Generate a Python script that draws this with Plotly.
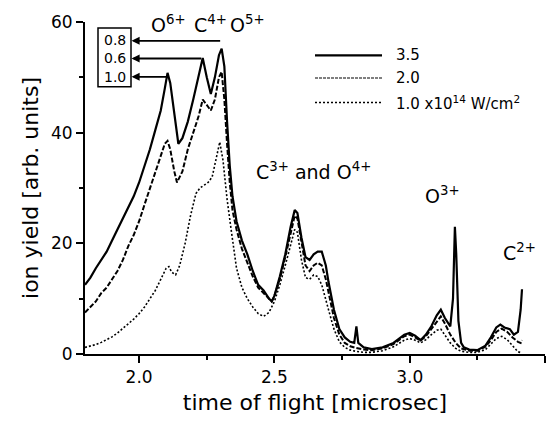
import plotly.graph_objects as go

# ---- data ----
tof_35 = [1.80, 1.82, 1.84, 1.86, 1.88, 1.90, 1.92, 1.94, 1.96, 1.98, 2.00, 2.02, 2.04, 2.06, 2.08,
          2.095, 2.105, 2.115, 2.13, 2.145, 2.16, 2.18, 2.20, 2.22, 2.235, 2.25, 2.265, 2.28, 2.295,
          2.305, 2.315, 2.325, 2.335, 2.345, 2.36, 2.38, 2.40, 2.42, 2.44, 2.46, 2.48, 2.49, 2.50,
          2.52, 2.54, 2.56, 2.575, 2.585, 2.60, 2.615, 2.63, 2.645, 2.66, 2.675, 2.69, 2.70, 2.72,
          2.74, 2.76, 2.78, 2.795, 2.803, 2.81, 2.83, 2.86, 2.90, 2.94, 2.98, 3.00, 3.02, 3.04, 3.06,
          3.08, 3.10, 3.115, 3.13, 3.15, 3.16, 3.167, 3.172, 3.18, 3.19, 3.20, 3.22, 3.25, 3.28, 3.30,
          3.32, 3.335, 3.35, 3.37, 3.385, 3.40, 3.41, 3.415]
yield_35 = [12.5, 13.8, 15.5, 17.0, 18.5, 20.5, 22.5, 24.3, 26.5, 28.5, 31.0, 34.0, 37.0, 40.5, 44.0,
            48.0, 50.8, 49.0, 43.0, 38.0, 39.0, 42.0, 46.0, 50.0, 53.5, 50.0, 47.0, 50.0, 54.0,
            55.2, 52.0, 42.0, 34.0, 28.5, 24.0, 20.5, 18.0, 15.0, 12.5, 11.5, 10.0, 9.5, 10.5,
            14.0, 18.0, 23.0, 26.0, 25.5, 21.0, 17.5, 17.0, 18.0, 18.5, 18.5, 16.0, 13.0, 8.0,
            4.5, 3.0, 2.2, 2.0, 5.0, 2.0, 1.2, 0.9, 1.2, 2.0, 3.5, 3.8, 3.3, 2.5, 3.5,
            5.0, 7.0, 8.0, 6.5, 5.0, 10.0, 23.0, 18.0, 6.0, 2.0, 1.2, 0.8, 0.7, 1.5, 3.0,
            4.8, 5.3, 4.8, 4.5, 3.5, 4.0, 8.0, 11.7]

tof_20 = [1.80, 1.82, 1.84, 1.86, 1.88, 1.90, 1.92, 1.94, 1.96, 1.98, 2.00, 2.02, 2.04, 2.06, 2.08,
          2.095, 2.105, 2.115, 2.13, 2.14, 2.16, 2.18, 2.20, 2.22, 2.235, 2.25, 2.265, 2.28, 2.295,
          2.305, 2.315, 2.325, 2.335, 2.345, 2.36, 2.38, 2.40, 2.42, 2.44, 2.46, 2.48, 2.49, 2.50,
          2.52, 2.54, 2.56, 2.575, 2.585, 2.60, 2.615, 2.63, 2.645, 2.66, 2.675, 2.69, 2.70, 2.72,
          2.74, 2.76, 2.78, 2.80, 2.83, 2.86, 2.90, 2.94, 2.98, 3.00, 3.02, 3.04, 3.06, 3.08, 3.10,
          3.115, 3.13, 3.15, 3.17, 3.19, 3.22, 3.25, 3.28, 3.30, 3.32, 3.34, 3.36, 3.38, 3.40, 3.41,
          3.415]
yield_20 = [7.5, 8.5, 9.5, 11.0, 12.0, 13.5, 15.0, 17.0, 19.5, 21.5, 24.0, 27.0, 30.0, 33.0, 36.0,
            38.0, 38.5, 37.0, 33.0, 31.0, 33.0, 37.0, 40.0, 43.0, 46.0, 45.0, 44.0, 46.0, 50.0,
            51.0, 46.0, 38.0, 31.0, 26.0, 22.5, 19.0, 16.5, 14.0, 12.0, 11.0, 10.0, 9.5, 10.5,
            13.5, 17.5, 22.0, 25.0, 24.5, 20.0, 16.0, 15.0, 16.0, 16.5, 16.0, 13.5, 11.0, 6.5,
            3.5, 2.0, 1.4, 1.1, 0.8, 0.7, 1.0, 1.8, 3.2, 3.5, 3.0, 2.4, 3.2, 4.5, 6.0,
            6.8, 5.5, 3.5, 2.0, 1.0, 0.6, 0.6, 1.3, 2.5, 4.0, 4.6, 4.0, 3.0, 2.2, 2.0,
            2.5]

tof_10 = [1.80, 1.82, 1.84, 1.86, 1.88, 1.90, 1.92, 1.94, 1.96, 1.98, 2.00, 2.02, 2.04, 2.06, 2.08,
          2.10, 2.11, 2.12, 2.135, 2.15, 2.17, 2.19, 2.21, 2.225, 2.24, 2.255, 2.27, 2.285, 2.298,
          2.31, 2.325, 2.34, 2.36, 2.38, 2.40, 2.42, 2.44, 2.46, 2.48, 2.50, 2.52, 2.54, 2.56,
          2.575, 2.585, 2.60, 2.615, 2.63, 2.645, 2.66, 2.675, 2.69, 2.70, 2.72, 2.74, 2.76, 2.78,
          2.80, 2.83, 2.86, 2.90, 2.94, 2.98, 3.00, 3.02, 3.04, 3.06, 3.08, 3.10, 3.115, 3.13, 3.15,
          3.17, 3.19, 3.22, 3.25, 3.28, 3.30, 3.32, 3.34, 3.36, 3.38, 3.40, 3.415]
yield_10 = [1.2, 1.4, 1.7, 2.1, 2.6, 3.1, 3.8, 4.6, 5.4, 6.3, 7.3, 8.5, 10.0, 11.5, 13.5,
            15.5, 15.8, 14.8, 14.3, 16.0, 20.0, 25.0, 29.0, 30.0, 30.5, 31.0, 32.0, 35.5, 38.3,
            35.0, 28.0, 22.5, 15.5, 12.0, 10.0, 8.5, 7.3, 6.8, 7.5, 9.5, 12.5, 16.0, 20.0,
            22.5, 22.0, 17.0, 13.8, 13.5, 14.3, 14.0, 12.5, 10.0, 8.0, 4.5, 2.2, 1.2, 0.7,
            0.5, 0.3, 0.3, 0.6, 1.3, 2.5, 2.8, 2.5, 2.0, 2.6, 3.5, 4.3, 4.5, 3.5, 2.0,
            1.0, 0.5, 0.3, 0.3, 0.8, 1.8, 2.8, 3.2, 2.6, 1.5, 0.4, 0.2]

legend_labels = ["3.5", "2.0", "1.0 x10<sup>14</sup> W/cm<sup>2</sup>"]
box_labels = ["0.8", "0.6", "1.0"]
# peak positions the arrows start from (x, y)
arrow_tails = [(2.305, 56.6), (2.235, 53.4), (2.11, 50.1)]
peak_labels = [("O<sup>6+</sup>", 2.107, 59.6), ("C<sup>4+</sup>", 2.262, 59.6),
               ("O<sup>5+</sup>", 2.399, 59.6),
               ("C<sup>3+</sup> and O<sup>4+</sup>", 2.646, 33.0),
               ("O<sup>3+</sup>", 3.123, 28.8), ("C<sup>2+</sup>", 3.404, 18.4)]

FONT = "DejaVu Sans"

fig = go.Figure()
fig.add_trace(go.Scatter(x=tof_35, y=yield_35, mode="lines",
                         line=dict(color="black", width=2.2), name=legend_labels[0]))
fig.add_trace(go.Scatter(x=tof_20, y=yield_20, mode="lines",
                         line=dict(color="black", width=2, dash="5px,2px"), name=legend_labels[1]))
fig.add_trace(go.Scatter(x=tof_10, y=yield_10, mode="lines",
                         line=dict(color="black", width=1.6, dash="2px,2px"), name=legend_labels[2]))

# custom legend (paper coordinates)
W, H = 460.0, 338.0
def px(xp):
    return (xp - 85) / W
def py(yp):
    return (354 - yp) / H

legend_y = [50, 73, 98]
legend_dash = ["solid", "3px,1px", "2px,2px"]
legend_w = [2.2, 1.2, 1.6]
for lab, yy, dsh, lw in zip(legend_labels, legend_y, legend_dash, legend_w):
    fig.add_shape(type="line", xref="paper", yref="paper", x0=px(315), x1=px(382),
                  y0=py(yy), y1=py(yy), line=dict(color="black", width=lw, dash=dsh))
    fig.add_annotation(xref="paper", yref="paper", x=px(394), y=py(yy), text=lab,
                       showarrow=False, xanchor="left", yanchor="middle",
                       font=dict(family=FONT, size=15, color="black"))

# boxed intensity labels
fig.add_shape(type="rect", xref="paper", yref="paper", x0=px(98), x1=px(131),
              y0=py(82), y1=py(22), line=dict(color="black", width=1.5))
for lab, yy in zip(box_labels, [34, 53, 72]):
    fig.add_annotation(xref="paper", yref="paper", x=px(114.5), y=py(yy), text=lab,
                       showarrow=False, xanchor="center", yanchor="middle",
                       font=dict(family=FONT, size=14, color="black"))

# arrows from peaks to the box
for (tx, ty) in arrow_tails:
    fig.add_annotation(x=1.972, y=ty, ax=tx, ay=ty, xref="x", yref="y", axref="x", ayref="y",
                       text="", showarrow=True, arrowhead=2, arrowsize=0.9, arrowwidth=1.8,
                       arrowcolor="black", standoff=0)

for txt, xx, yy in peak_labels:
    fig.add_annotation(x=xx, y=yy, xref="x", yref="y", text=txt, showarrow=False,
                       xanchor="center", yanchor="middle",
                       font=dict(family=FONT, size=19, color="black"))

fig.update_layout(
    width=558, height=426,
    margin=dict(l=85, r=13, t=16, b=72),
    paper_bgcolor="white", plot_bgcolor="white",
    showlegend=False,
    font=dict(family=FONT, color="black"),
)
fig.update_xaxes(range=[1.8, 3.5], tick0=2.0, dtick=0.5, tickformat=".1f",
                 showline=True, linecolor="black", linewidth=2, showgrid=False, zeroline=False,
                 ticks="outside", ticklen=7, tickwidth=2, tickcolor="black",
                 minor=dict(ticks="outside", dtick=0.25, tick0=2.0, ticklen=4, tickwidth=2,
                            tickcolor="black", showgrid=False),
                 tickfont=dict(family=FONT, size=17, color="black"),
                 title=dict(text="time of flight [microsec]", standoff=8,
                            font=dict(family=FONT, size=22, color="black")))
fig.update_yaxes(range=[0, 60], dtick=20,
                 showline=True, linecolor="black", linewidth=2, showgrid=False, zeroline=False,
                 ticks="outside", ticklen=7, tickwidth=2, tickcolor="black",
                 minor=dict(ticks="outside", dtick=10, ticklen=4, tickwidth=2,
                            tickcolor="black", showgrid=False),
                 tickfont=dict(family=FONT, size=17, color="black"),
                 title=dict(text="ion yield [arb. units]", standoff=6,
                            font=dict(family=FONT, size=22, color="black")))

fig.write_html("out.html")
